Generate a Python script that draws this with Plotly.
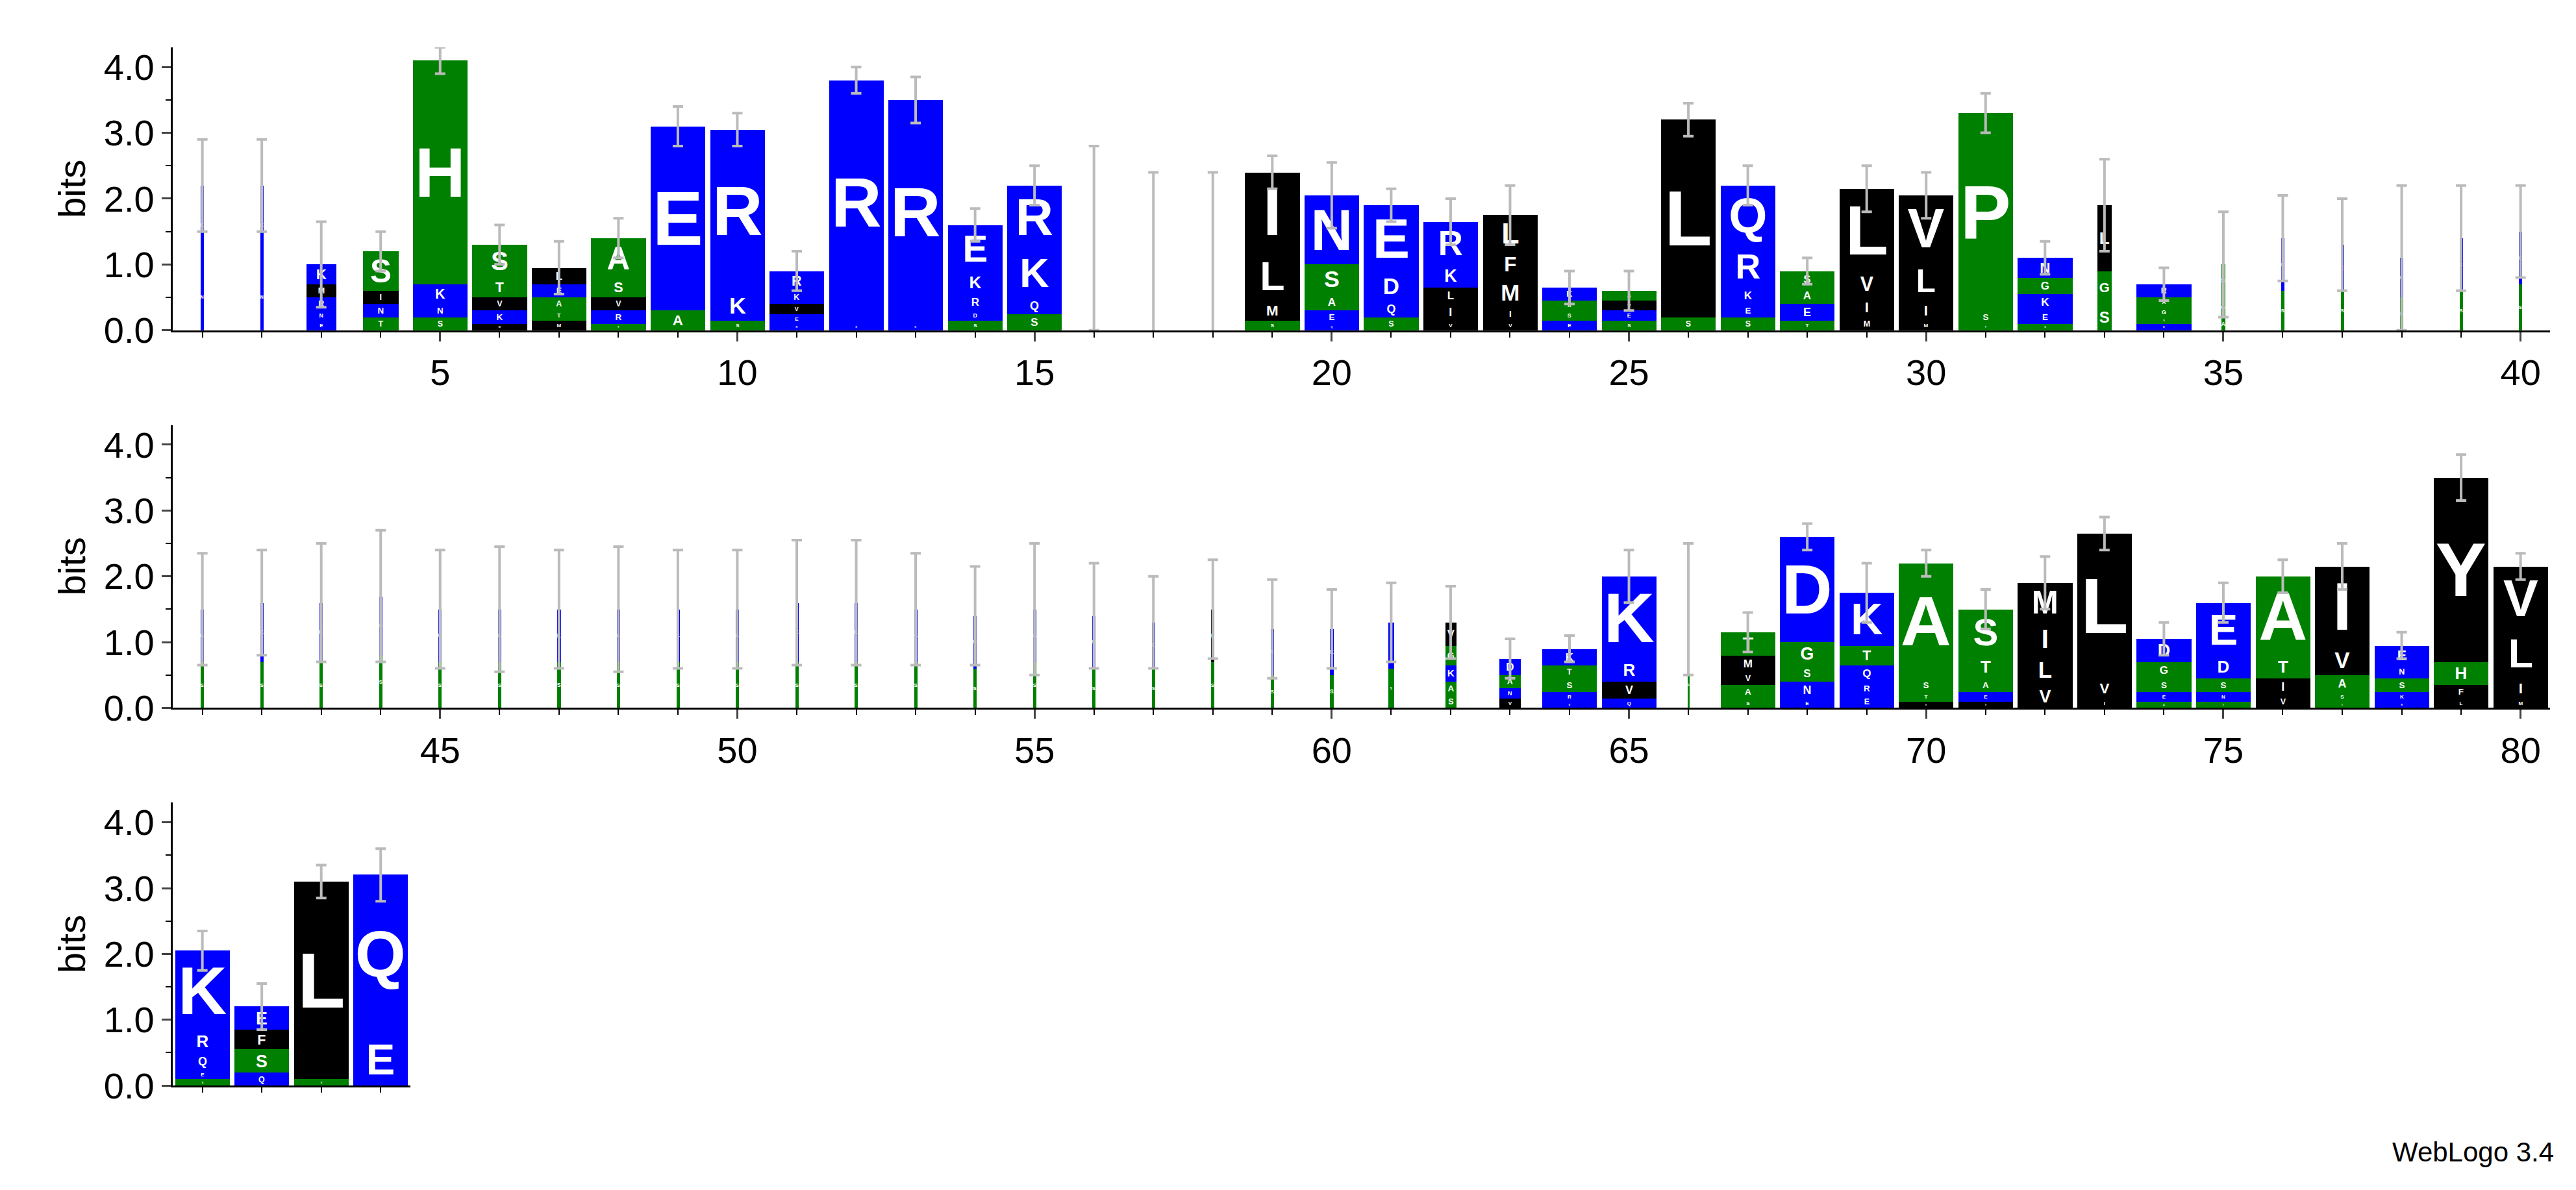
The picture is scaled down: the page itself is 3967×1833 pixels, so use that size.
import plotly.graph_objects as go

# per position: (letters top->bottom, heights top->bottom, column width fraction, error-bar top)
positions = list(range(1, 85))
letters = [
 "RKN","RKN","KMRNE","SINT","HKNS","STVKM","LEATM","ASVRT","EA","RKS",
 "RKVEN","RK","RK","EKRDS","RKQS","RK","RK","RK","ILMS","NSAEQ",
 "EDQS","RKLIV","LFMIV","KASE","AVES","LS","QRKES","SAET","LVIM","VLIM",
 "PST","NGKES","LGS","RAGSE","SGA","KS","KS","KS","KS","KS",
 "KS","KS","KS","KS","KS","KS","KS","KS","KS","KS",
 "KS","KS","KS","KS","KS","KS","KS","LS","KS","KS",
 "KS","VGKAS","DANV","KTSRE","KRVQ","KS","TMVAS","DGSNE","KTQRE","ASTV",
 "STAEV","MILV","LVI","DGSEA","EDSNT","ATIV","IVAST","ENSKR","YHFL","VLIM",
 "KRQES","EFSQ","LS","QE"]
heights = [
 [1.2,1.0],[1.2,1.0],[0.3,0.2,0.2,0.15,0.15],[0.6,0.2,0.2,0.2],[3.4,0.3,0.2,0.2],[0.5,0.3,0.2,0.2,0.1],[0.25,0.2,0.2,0.15,0.15],[0.6,0.3,0.2,0.2,0.1],[2.8,0.3],[2.45,0.45,0.15],
 [0.3,0.2,0.15,0.15,0.1],[3.7,0.1],[3.4,0.1],[0.7,0.35,0.25,0.15,0.15],[0.95,0.75,0.25,0.25],[0.8,0.6],[0.5,0.4],[0.5,0.4],[1.2,0.75,0.3,0.15],[1.05,0.45,0.25,0.2,0.1],
 [1.0,0.45,0.25,0.2],[0.65,0.35,0.25,0.25,0.15],[0.55,0.4,0.45,0.2,0.15],[0.2,0.15,0.15,0.15],[0.15,0.15,0.15,0.15],[3.0,0.2],[0.9,0.65,0.25,0.2,0.2],[0.25,0.25,0.25,0.15],[1.25,0.4,0.3,0.2],[1.0,0.6,0.3,0.15],
 [3.0,0.2,0.1],[0.3,0.25,0.25,0.2,0.1],[1.0,0.5,0.4],[0.2,0.15,0.15,0.1,0.1],[0.5,0.3,0.2],[0.8,0.6],[0.7,0.6],[0.6,0.5],[0.8,0.6],[0.8,0.7],
 [0.8,0.7],[0.9,0.7],[0.9,0.7],[0.9,0.8],[0.8,0.7],[0.8,0.7],[0.8,0.7],[0.8,0.7],[0.8,0.7],[0.8,0.7],
 [0.9,0.7],[0.9,0.7],[0.8,0.7],[0.8,0.6],[0.8,0.7],[0.8,0.6],[0.7,0.6],[0.8,0.7],[0.7,0.5],[0.7,0.5],
 [0.7,0.6],[0.35,0.3,0.25,0.2,0.2],[0.25,0.2,0.15,0.15],[0.25,0.2,0.2,0.15,0.1],[1.25,0.35,0.25,0.15],[0.8,0.7],[0.35,0.25,0.2,0.2,0.15],[1.6,0.35,0.25,0.25,0.15],[0.8,0.3,0.25,0.2,0.2],[1.75,0.2,0.15,0.1],
 [0.7,0.35,0.2,0.15,0.1],[0.6,0.5,0.45,0.35],[2.2,0.3,0.15],[0.35,0.25,0.2,0.15,0.1],[0.8,0.35,0.2,0.15,0.1],[1.2,0.35,0.25,0.2],[1.2,0.45,0.25,0.15,0.1],[0.3,0.2,0.2,0.15,0.1],[2.8,0.35,0.2,0.15],[0.95,0.75,0.3,0.15],
 [1.2,0.35,0.25,0.15,0.1],[0.35,0.3,0.35,0.2],[3.0,0.1],[2.4,0.8]]
widths = [0.06,0.06,0.55,0.65,1,1,1,1,1,1,
 1,1,1,1,1,0.02,0.02,0.02,1,1,
 1,1,1,1,1,1,1,1,1,1,
 1,1,0.25,1,0.08,0.06,0.06,0.06,0.06,0.06,
 0.06,0.06,0.06,0.06,0.06,0.06,0.06,0.06,0.06,0.06,
 0.06,0.06,0.06,0.06,0.06,0.06,0.06,0.06,0.06,0.06,
 0.1,0.2,0.4,1,1,0.03,1,1,1,1,
 1,1,1,1,1,1,1,1,1,1,
 1,1,1,1]
err_top = [2.9,2.9,1.65,1.5,4.3,1.6,1.35,1.7,3.4,3.3,
 1.2,4.0,3.85,1.85,2.5,2.8,2.4,2.4,2.65,2.55,
 2.15,2.0,2.2,0.9,0.9,3.45,2.5,1.1,2.5,2.4,
 3.6,1.35,2.6,0.95,1.8,2.05,2.0,2.2,2.2,2.2,
 2.35,2.4,2.5,2.7,2.4,2.45,2.4,2.45,2.4,2.4,
 2.55,2.55,2.35,2.15,2.5,2.2,2.0,2.25,1.95,1.8,
 1.9,1.85,1.05,1.1,2.4,2.5,1.45,2.8,2.2,2.4,
 1.8,2.3,2.9,1.3,1.9,2.25,2.5,1.15,3.85,2.35,
 2.35,1.55,3.35,3.6]

COL = {}
for a in "KRDENQ": COL[a] = "#0000ff"
for a in "HAPSTGC": COL[a] = "#008000"
for a in "LIMVFYW": COL[a] = "#000000"

fig = go.Figure()
rows = [(1, 40, "x", "y"), (41, 80, "x2", "y2"), (81, 84, "x3", "y3")]
for lo, hi, xa, ya in rows:
    idx = [i for i in range(len(positions)) if lo <= positions[i] <= hi]
    maxl = max(len(heights[i]) for i in idx)
    for layer in range(maxl):
        xs, ys, cs, ts, ws = [], [], [], [], []
        for i in idx:
            hs = heights[i][::-1]
            ls = letters[i][::-1]
            if layer < len(hs):
                xs.append(positions[i]); ys.append(hs[layer]); cs.append(COL[ls[layer]])
                ts.append(ls[layer]); ws.append(0.92 * widths[i])
        fig.add_trace(go.Bar(x=xs, y=ys, width=ws, marker=dict(color=cs, line=dict(width=0)),
                             text=ts, textposition="inside", insidetextanchor="middle",
                             textangle=0, textfont=dict(color="white", family="Liberation Sans", size=120, weight="bold"),
                             xaxis=xa, yaxis=ya, showlegend=False, hoverinfo="skip"))
    tot = [sum(heights[i]) for i in idx]
    e = [max(err_top[i] - sum(heights[i]), 0) for i in idx]
    fig.add_trace(go.Scatter(x=[positions[i] for i in idx], y=tot, mode="markers",
                             marker=dict(size=1, color="rgba(0,0,0,0)"),
                             error_y=dict(type="data", array=e, arrayminus=e, color="#bbbbbb", thickness=4, width=8),
                             xaxis=xa, yaxis=ya, showlegend=False, hoverinfo="skip"))

ax = dict(showline=True, linecolor="black", linewidth=3, ticks="outside", tickwidth=3, ticklen=14,
          tickfont=dict(size=56, family="Liberation Sans", color="black"), showgrid=False, zeroline=False,
          minor=dict(ticks="outside", ticklen=8, tickwidth=2, dtick=1, tickcolor="black"))
yax = dict(ax, range=[0, 4.3], tickvals=[0, 1, 2, 3, 4], tickformat=".1f",
           title=dict(text="bits", font=dict(size=58, family="Liberation Sans", color="black"), standoff=10),
           minor=dict(ticks="outside", ticklen=8, tickwidth=2, dtick=0.5, tickcolor="black"))
fig.update_layout(
    width=3967, height=1833, barmode="stack", bargap=0, plot_bgcolor="white", paper_bgcolor="white",
    margin=dict(l=0, r=0, t=0, b=0), uniformtext=dict(minsize=1, mode=False),
    xaxis=dict(ax, domain=[0.065, 0.988], range=[0.5, 40.5], tickvals=list(range(5, 41, 5)), anchor="y"),
    yaxis=dict(yax, domain=[0.722, 0.964], anchor="x"),
    xaxis2=dict(ax, domain=[0.065, 0.988], range=[40.5, 80.5], tickvals=list(range(45, 81, 5)), anchor="y2"),
    yaxis2=dict(yax, domain=[0.399, 0.641], anchor="x2"),
    xaxis3=dict(ax, domain=[0.065, 0.1573], range=[80.5, 84.5], tickvals=[], anchor="y3"),
    yaxis3=dict(yax, domain=[0.076, 0.318], anchor="x3"),
    annotations=[dict(text="WebLogo 3.4", xref="paper", yref="paper", x=0.99, y=0.005,
                      xanchor="right", yanchor="bottom", showarrow=False,
                      font=dict(size=42, family="Liberation Sans", color="black"))])
fig.write_html("out.html")
